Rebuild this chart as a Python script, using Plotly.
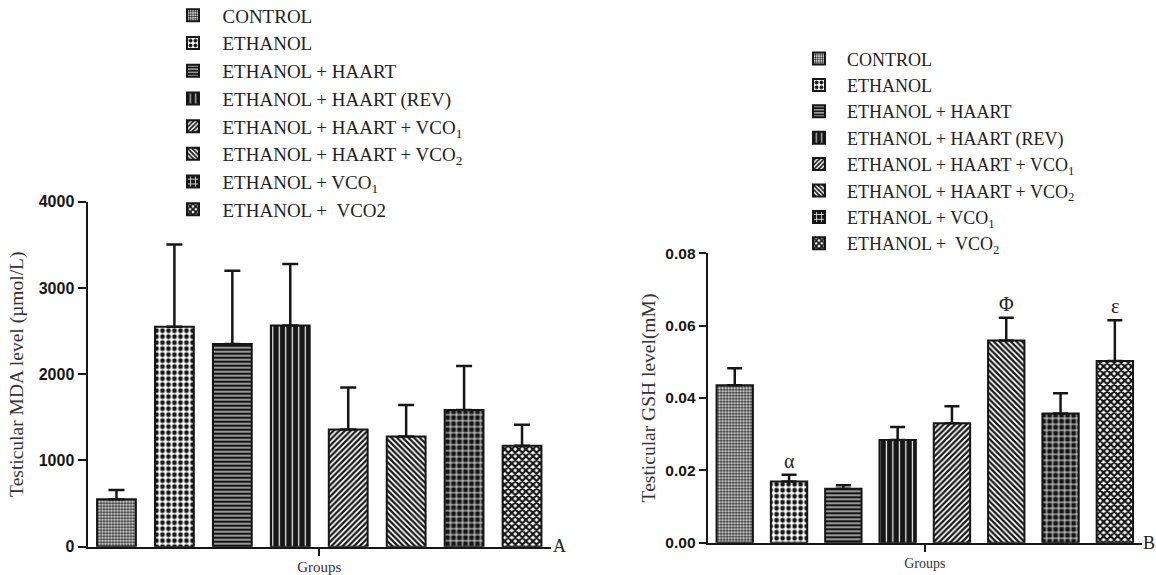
import plotly.graph_objects as go

# ---------------- data ----------------
groups_a = [
    "CONTROL",
    "ETHANOL",
    "ETHANOL + HAART",
    "ETHANOL + HAART (REV)",
    "ETHANOL + HAART + VCO<sub>1</sub>",
    "ETHANOL + HAART + VCO<sub>2</sub>",
    "ETHANOL + VCO<sub>1</sub>",
    "ETHANOL + \u00a0VCO2",
]
groups_b = [
    "CONTROL",
    "ETHANOL",
    "ETHANOL + HAART",
    "ETHANOL + HAART (REV)",
    "ETHANOL + HAART + VCO<sub>1</sub>",
    "ETHANOL + HAART + VCO<sub>2</sub>",
    "ETHANOL + VCO<sub>1</sub>",
    "ETHANOL + \u00a0VCO<sub>2</sub>",
]
positions = [0, 1, 2, 3, 4, 5, 6, 7]

mda_mean = [549, 2551, 2350, 2566, 1360, 1279, 1585, 1171]
mda_sem = [108, 954, 850, 711, 487, 364, 510, 243]

gsh_mean = [0.0435, 0.0169, 0.0149, 0.0284, 0.0330, 0.0559, 0.0357, 0.0502]
gsh_sem = [0.0047, 0.0019, 0.0010, 0.0036, 0.0047, 0.0063, 0.0056, 0.0113]
gsh_marks = ["", "\u03b1", "", "", "", "\u03a6", "", "\u03b5"]

mda_ticks = [0, 1000, 2000, 3000, 4000]
gsh_ticks = [0, 0.02, 0.04, 0.06, 0.08]

# ---------------- styles ----------------
INK = "#161616"
patterns = [
    dict(shape=".", fgcolor=INK, bgcolor="white", size=3, solidity=0.5, fillmode="replace"),
    dict(shape=".", fgcolor=INK, bgcolor="white", size=6, solidity=0.5, fillmode="replace"),
    dict(shape="-", fgcolor="white", bgcolor=INK, size=4, solidity=0.28, fillmode="replace"),
    dict(shape="|", fgcolor="white", bgcolor=INK, size=6.5, solidity=0.18, fillmode="replace"),
    dict(shape="/", fgcolor=INK, bgcolor="white", size=4, solidity=0.55, fillmode="replace"),
    dict(shape="\\", fgcolor=INK, bgcolor="white", size=4, solidity=0.55, fillmode="replace"),
    dict(shape="+", fgcolor="white", bgcolor=INK, size=6, solidity=0.28, fillmode="replace"),
    dict(shape="x", fgcolor=INK, bgcolor="white", size=5, solidity=0.68, fillmode="replace"),
]

SERIF = "Liberation Serif, Times New Roman, serif"
SANS = "Liberation Sans, Arial, sans-serif"

# body margin is removed in the page (post_script), so the figure fills the window
W, H = 1156, 575


def px(xw):  # window x -> paper x
    return xw / W


def py(yw):  # window y -> paper y
    return 1 - yw / H


fig = go.Figure()

for i in range(len(positions)):
    fig.add_trace(go.Bar(
        x=[positions[i]], y=[mda_mean[i]], name=groups_a[i],
        width=0.67,
        marker=dict(color="white", line=dict(color=INK, width=2), pattern=patterns[i]),
        error_y=dict(type="data", symmetric=False, array=[mda_sem[i]], arrayminus=[0],
                     color=INK, thickness=2.5, width=8),
        xaxis="x", yaxis="y", legend="legend", legendgroup="a%d" % i,
    ))

for i in range(len(positions)):
    fig.add_trace(go.Bar(
        x=[positions[i]], y=[gsh_mean[i]], name=groups_b[i],
        width=0.67,
        marker=dict(color="white", line=dict(color=INK, width=2), pattern=patterns[i]),
        error_y=dict(type="data", symmetric=False, array=[gsh_sem[i]], arrayminus=[0],
                     color=INK, thickness=2.5, width=7.5),
        xaxis="x2", yaxis="y2", legend="legend2", legendgroup="b%d" % i,
    ))

# significance marks above error bars
for i, m in enumerate(gsh_marks):
    if m:
        fig.add_annotation(x=positions[i], y=gsh_mean[i] + gsh_sem[i], xref="x2", yref="y2",
                           text=m, showarrow=False, yanchor="bottom", yshift=1,
                           font=dict(family=SERIF, size=20, color="#222"))

axis_common = dict(showline=True, linecolor=INK, linewidth=2, showgrid=False, zeroline=False,
                   ticks="outside", tickcolor=INK, tickwidth=2, automargin=False)

fig.update_layout(
    width=W, height=H,
    margin=dict(l=0, r=0, t=0, b=0, autoexpand=False),
    paper_bgcolor="white", plot_bgcolor="white",
    barmode="overlay",
    showlegend=True,
    xaxis=dict(domain=[px(87.5), px(551)], range=[-0.5, 7.5], tickvals=[3.5], ticktext=[""],
               ticklen=7, anchor="y",
               title=dict(text="Groups", font=dict(family=SERIF, size=15, color="#333"), standoff=7),
               **axis_common),
    yaxis=dict(domain=[py(546.7), py(201.7)], range=[0, 4000], tickvals=mda_ticks,
               ticklen=8, anchor="x",
               tickfont=dict(family=SANS, size=16, color=INK, weight="bold"),
               title=dict(text="Testicular MDA level (\u00b5mol/L)",
                          font=dict(family=SERIF, size=19.5, color="#333"), standoff=10),
               **axis_common),
    xaxis2=dict(domain=[px(707.6), px(1142)], range=[-0.5, 7.5], tickvals=[3.5], ticktext=[""],
                ticklen=7, anchor="y2",
                title=dict(text="Groups", font=dict(family=SERIF, size=14, color="#333"), standoff=5),
                **axis_common),
    yaxis2=dict(domain=[py(542.7), py(253.3)], range=[0, 0.08], tickvals=gsh_ticks,
                tickformat=".2f", ticklen=7, anchor="x2",
                tickfont=dict(family=SANS, size=15.5, color=INK, weight="bold"),
                title=dict(text="Testicular GSH level(mM)",
                           font=dict(family=SERIF, size=19.5, color="#333"), standoff=5),
                **axis_common),
    legend=dict(x=px(163.5), y=py(-3.5), xanchor="left", yanchor="top", bgcolor="rgba(0,0,0,0)",
                font=dict(family=SERIF, size=19, color="#222"), tracegroupgap=0, itemwidth=49,
                itemclick=False, itemdoubleclick=False),
    legend2=dict(x=px(791), y=py(40.3), xanchor="left", yanchor="top", bgcolor="rgba(0,0,0,0)",
                 font=dict(family=SERIF, size=18, color="#222"), tracegroupgap=0, itemwidth=46,
                 itemclick=False, itemdoubleclick=False),
    annotations=list(fig.layout.annotations) + [
        dict(x=px(551), y=py(546), xref="paper", yref="paper", text="A", showarrow=False,
             xanchor="left", yanchor="middle", font=dict(family=SERIF, size=18, color="#222")),
        dict(x=px(1141), y=py(543), xref="paper", yref="paper", text="B", showarrow=False,
             xanchor="left", yanchor="middle", font=dict(family=SERIF, size=18, color="#222")),
    ],
)

fig.write_html(
    "out.html",
    config={"displayModeBar": False},
    post_script="document.body.style.margin='0px';document.body.style.overflow='hidden';",
)
